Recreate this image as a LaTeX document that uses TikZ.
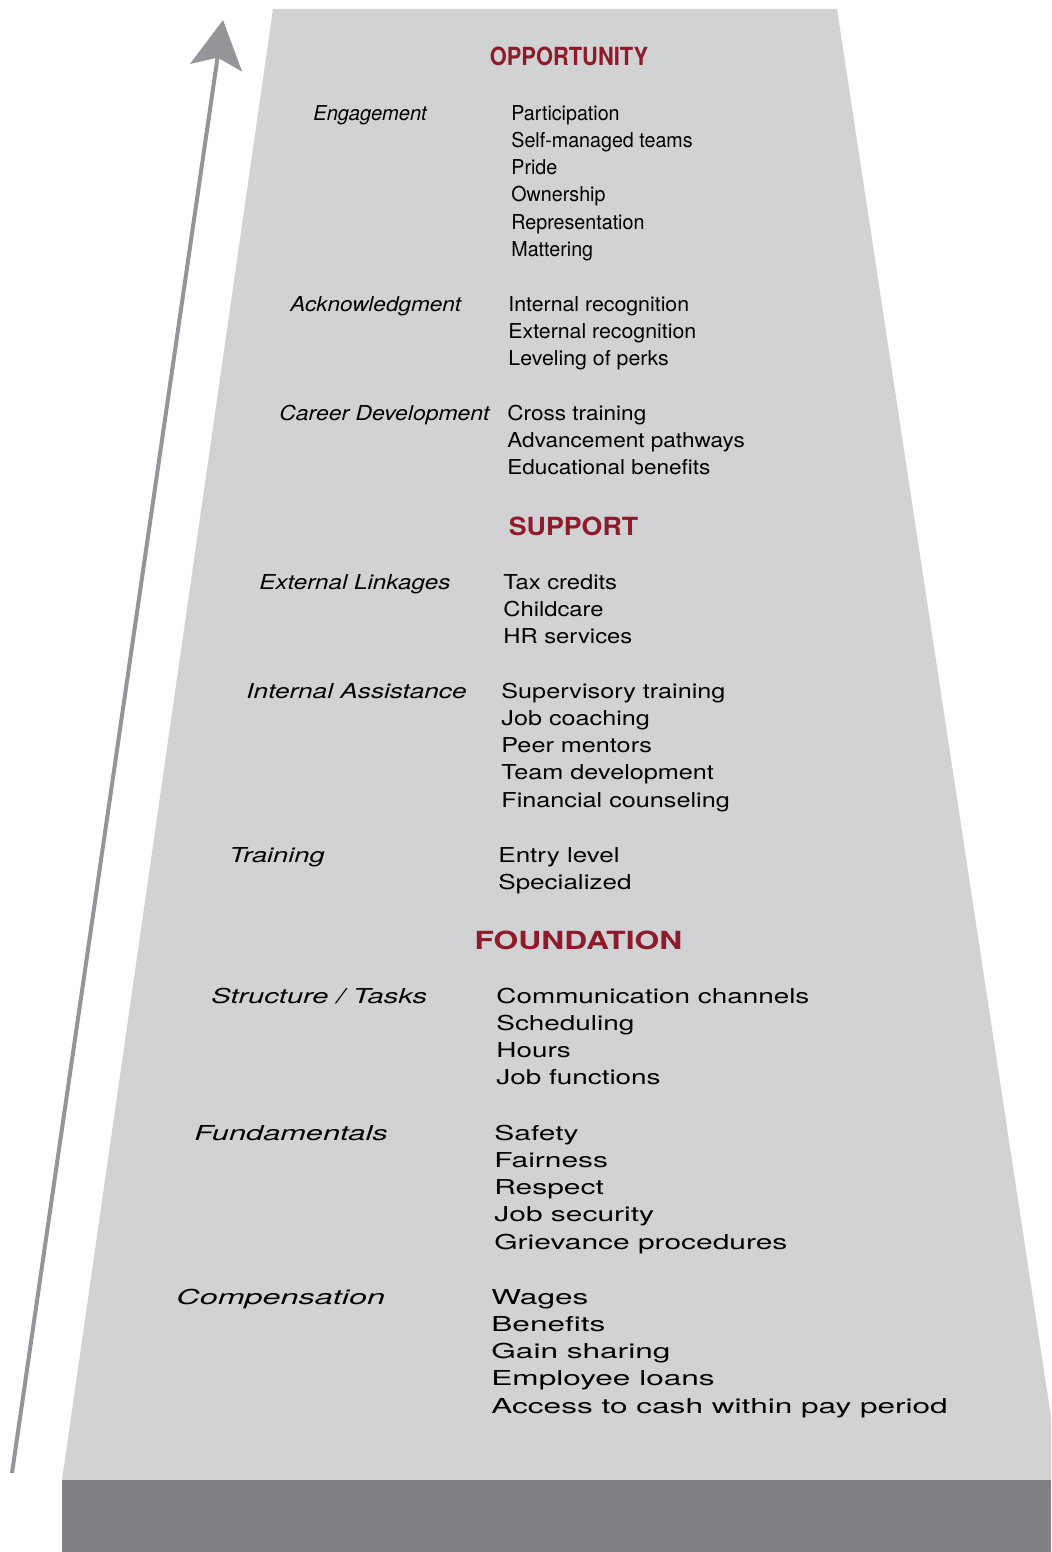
\documentclass[tikz,border=0pt]{standalone}
\usepackage{fontspec}
\setmainfont{TeX Gyre Heros}
\usepackage{graphicx}
\usetikzlibrary{arrows.meta}

\definecolor{slab}{HTML}{D1D2D4}
\definecolor{plinth}{HTML}{808185}
\definecolor{risegray}{HTML}{939598}
\definecolor{tierred}{HTML}{8E1B2B}

% stretch a block of left aligned lines sideways
\newcommand{\spread}[2]{\scalebox{#1}[1]{\begin{tabular}[t]{@{}l@{}}#2\end{tabular}}}

\begin{document}
\begin{tikzpicture}[x=0.5pt, y=-0.5pt,
    tier/.style={anchor=base, inner sep=0pt, text=tierred, font=\fontsize{12.5}{15}\selectfont\bfseries},
    area/.style={anchor=base west, inner sep=0pt, font=\fontsize{10.25}{13.65}\selectfont\itshape},
    items/.style={anchor=base west, inner sep=0pt, font=\fontsize{10.25}{13.65}\selectfont}]
    \useasboundingbox (0,0) rectangle (1051,1552);

    % body and base
    \fill[slab] (273,9) -- (837,9) -- (1051,1417) -- (1051,1480) -- (62,1480) -- cycle;
    \fill[plinth] (62,1480) rectangle (1051,1552);

    % rising arrow
    \coordinate (foot) at (12,1473);
    \coordinate (tip) at (223,20);
    \draw[risegray, line width=2pt, -{Stealth[length=24pt, width=26pt, inset=5pt]}] (foot) -- (tip);

    % top tier
    \node[tier] (opportunity) at (569,66) {\spread{0.875}{OPPORTUNITY}};

    \node[area] (engagement) at (313,120) {\spread{0.98}{Engagement}};
    \node[items] (engagement-list) at (511,120) {\spread{0.96}{Participation\\Self-managed teams\\Pride\\Ownership\\Representation\\Mattering}};

    \node[area] (acknowledgment) at (290,311) {\spread{1.10}{Acknowledgment}};
    \node[items] (acknowledgment-list) at (508,311) {\spread{1.04}{Internal recognition\\External recognition\\Leveling of perks}};

    \node[area] (career) at (279,420) {\spread{1.12}{Career Development}};
    \node[items] (career-list) at (507,420) {\spread{1.10}{Cross training\\Advancement pathways\\Educational benefits}};

    % middle tier
    \node[tier] (support) at (573.5,535) {\spread{1.07}{SUPPORT}};

    \node[area] (external) at (259,589) {\spread{1.18}{External Linkages}};
    \node[items] (external-list) at (503,589) {\spread{1.16}{Tax credits\\Childcare\\HR services}};

    \node[area] (internal) at (246,698) {\spread{1.28}{Internal Assistance}};
    \node[items] (internal-list) at (501,698) {\spread{1.23}{Supervisory training\\Job coaching\\Peer mentors\\Team development\\Financial counseling}};

    \node[area] (training) at (229,862) {\spread{1.33}{Training}};
    \node[items] (training-list) at (498,862) {\spread{1.27}{Entry level\\Specialized}};

    % bottom tier
    \node[tier] (foundation) at (578.5,949) {\spread{1.27}{FOUNDATION}};

    \node[area] (structure) at (211,1003) {\spread{1.42}{Structure / Tasks}};
    \node[items] (structure-list) at (496,1003) {\spread{1.36}{Communication channels\\Scheduling\\Hours\\Job functions}};

    \node[area] (fundamentals) at (194,1140) {\spread{1.50}{Fundamentals}};
    \node[items] (fundamentals-list) at (494,1140) {\spread{1.46}{Safety\\Fairness\\Respect\\Job security\\Grievance procedures}};

    \node[area] (compensation) at (176,1304) {\spread{1.58}{Compensation}};
    \node[items] (compensation-list) at (491,1304) {\spread{1.54}{Wages\\Benefits\\Gain sharing\\Employee loans\\Access to cash within pay period}};
\end{tikzpicture}
\end{document}
